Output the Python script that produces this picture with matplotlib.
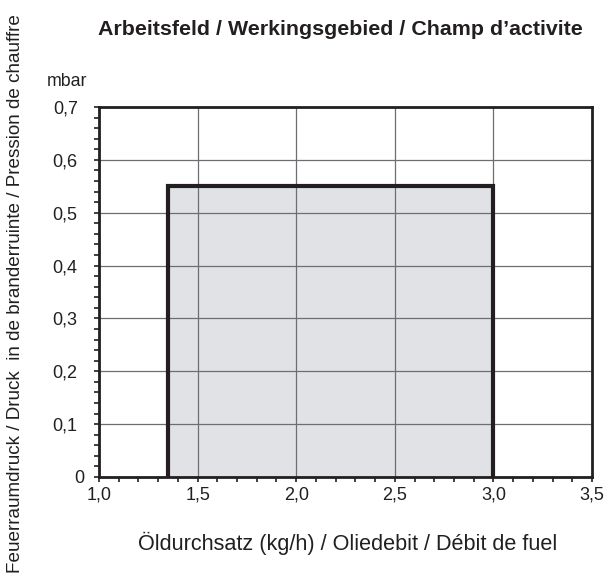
import numpy as np
import matplotlib
matplotlib.use("Agg")
import matplotlib.pyplot as plt
import matplotlib.transforms as mtransforms
from matplotlib.ticker import MultipleLocator, FuncFormatter

plt.rcParams["font.family"] = ["Liberation Sans", "DejaVu Sans"]

# Working field: oil throughput (kg/h) vs. combustion chamber pressure (mbar)
field_x = [1.35, 1.35, 3.0, 3.0]
field_y = [0.0, 0.55, 0.55, 0.0]

x_ticks = [1.0, 1.5, 2.0, 2.5, 3.0, 3.5]
y_ticks = [0.0, 0.1, 0.2, 0.3, 0.4, 0.5, 0.6, 0.7]

fig = plt.figure(figsize=(6.05, 5.88), dpi=100)
ax = fig.add_axes([0.1636, 0.1888, 0.8149, 0.6293])

ax.fill(field_x, field_y, color="#e1e2e6", zorder=1)
ax.plot(field_x, field_y, color="#231f20", lw=3, solid_joinstyle="miter", zorder=3)

ax.set_xlim(1.0, 3.5)
ax.set_ylim(0.0, 0.7)
ax.set_xticks(x_ticks)
ax.set_yticks(y_ticks)
ax.xaxis.set_minor_locator(MultipleLocator(0.1))
ax.yaxis.set_minor_locator(MultipleLocator(0.02))

def comma_fmt(v, pos):
    if abs(v) < 1e-9:
        return "0"
    return f"{v:.1f}".replace(".", ",")

ax.xaxis.set_major_formatter(FuncFormatter(lambda v, p: f"{v:.1f}".replace(".", ",")))
ax.yaxis.set_major_formatter(FuncFormatter(comma_fmt))

ax.grid(True, which="major", color="#6d6e71", lw=0.9, zorder=2)
ax.tick_params(which="both", direction="out", length=3.8, width=1.2, color="#231f20",
               labelsize=13, labelcolor="#231f20")
ax.tick_params(axis="y", pad=11.5)
ax.tick_params(axis="x", pad=3)
for s in ax.spines.values():
    s.set_linewidth(2)
    s.set_color("#231f20")
    s.set_zorder(4)

# the "0" label sits a bit further right in the original
fig.canvas.draw()
ylabels = ax.get_yticklabels()
ylabels[0].set_transform(ylabels[0].get_transform() +
                         mtransforms.ScaledTranslation(7 / 100, 0, fig.dpi_scale_trans))

fig.text(0.562, 0.949, "Arbeitsfeld / Werkingsgebied / Champ d\u2019activite",
         ha="center", va="center", fontsize=15.4, fontweight="bold", color="#231f20")
fig.text(0.078, 0.861, "mbar", ha="left", va="center", fontsize=12.8, color="#231f20")
fig.text(0.574, 0.076, "\u00d6ldurchsatz (kg/h) / Oliedebit / D\u00e9bit de fuel",
         ha="center", va="center", fontsize=15.6, color="#231f20")
fig.text(0.026, 0.5, "Feuerraumdruck / Druck  in de branderruinte / Pression de chauffre",
         ha="center", va="center", rotation=90, fontsize=13.6, color="#231f20")

plt.savefig("out.png", dpi=100)
